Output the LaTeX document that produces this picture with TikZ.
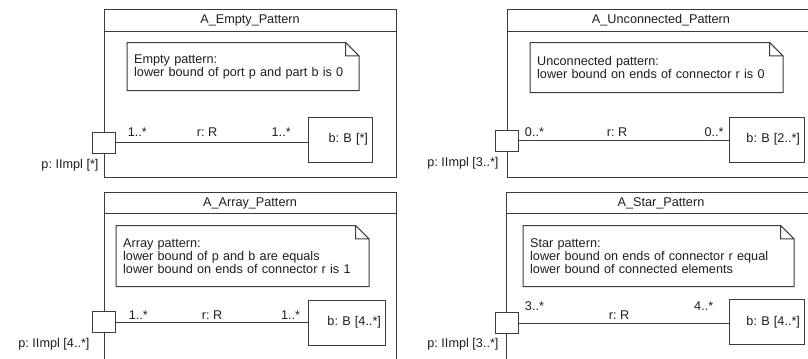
\documentclass[tikz,border=0pt]{standalone}
\usepackage{fontspec}
\setmainfont{Liberation Sans}
\frenchspacing
\usepackage{tikz}
\usetikzlibrary{arrows,shapes}
\definecolor{umlline}{RGB}{60,60,60}
\definecolor{umltext}{RGB}{30,30,30}
\tikzstyle{uml}=[x=0.75pt, y=-0.75pt, line width=0.75pt, draw=umlline,
                every node/.style={text=umltext, font=\fontsize{9.5}{9.75}\selectfont}]
\tikzstyle{title}=[inner sep=0]
\tikzstyle{note}=[anchor=west, align=left, inner xsep=5pt, inner ysep=0]
\tikzstyle{port}=[draw=umlline, fill=white, minimum width=17.25pt,
                minimum height=15.75pt, inner sep=0]
\tikzstyle{part}=[draw=umlline, fill=white, align=right, inner xsep=3pt,
                minimum height=33.75pt]
\tikzstyle{plabel}=[anchor=east, inner sep=0]
\tikzstyle{mult}=[inner sep=0, anchor=center]

\begin{document}
\begin{tikzpicture}[uml]
\useasboundingbox (0,0) rectangle (808,358);
\clip (0,0) rectangle (808,358);
% frames
\draw[umlline] (104,9) rectangle (396,177) (104,31) -- (396,31);
\draw[umlline] (507,9) rectangle (815,177) (507,31) -- (815,31);
\draw[umlline] (104,192) rectangle (396,370) (104,213) -- (396,213);
\draw[umlline] (506,192) rectangle (815,370) (506,213) -- (815,213);
\node[title] (t1) at (250,20) {A\_Empty\_Pattern};
\node[title] (t2) at (661,20) {A\_Unconnected\_Pattern};
\node[title] (t3) at (250,203) {A\_Array\_Pattern};
\node[title] (t4) at (661,203) {A\_Star\_Pattern};
% notes
\node[note, text width=163.25pt, minimum height=35.25pt] (n1) at (127,66.5)
  {Empty pattern:\\lower bound of port p and part b is 0};
\node[note, text width=179pt, minimum height=36.75pt] (n2) at (530,67.5)
  {Unconnected pattern:\\lower bound on ends of connector r is 0};
\node[note, text width=179pt, minimum height=45pt] (n3) at (116,256)
  {Array pattern:\\lower bound of p and b are equals\\lower bound on ends of connector r is 1};
\node[note, text width=192.5pt, minimum height=45pt] (n4) at (523,256)
  {Star pattern:\\lower bound on ends of connector r equal\\lower bound of connected elements};
\foreach \n in {n1,n2,n3,n4}
  \draw[umlline] (\n.south west) -- (\n.north west) -- ([xshift=-10pt]\n.north east)
    -- ([yshift=-10pt]\n.north east) -- (\n.south east) -- cycle
    ([xshift=-10pt]\n.north east) |- ([yshift=-10pt]\n.north east);
% parts
\node[part, text width=42pt] (b1) at (340,139.5) {b: B [*]};
\node[part, text width=50.25pt] (b2) at (766.5,139.5) {b: B [2..*]};
\node[part, text width=51.75pt] (b3) at (346.5,322.5) {b: B [4..*]};
\node[part, text width=50.25pt] (b4) at (766.5,322) {b: B [4..*]};
% ports
\node[port] (p1) at (103.5,142.5) {};
\node[port] (p2) at (506.5,140.5) {};
\node[port] (p3) at (103.5,322) {};
\node[port] (p4) at (506.5,323) {};
\node[plabel] (l1) at (99,165) {p: IImpl [*]};
\node[plabel] (l2) at (499,163) {p: IImpl [3..*]};
\node[plabel] (l3) at (90,344) {p: IImpl [4..*]};
\node[plabel] (l4) at (499,344) {p: IImpl [3..*]};
% connectors
\path[draw=umlline]
  (p1) edge node[mult, pos=0.114, yshift=7.5pt] {1..*}
            node[mult, pos=0.477, yshift=7.5pt] {r: R}
            node[mult, pos=0.863, yshift=7.5pt] {1..*} (p1 -| b1.west)
  (p2) edge node[mult, pos=0.076, yshift=6pt] {0..*}
            node[mult, pos=0.469, yshift=6pt] {r: R}
            node[mult, pos=0.931, yshift=6pt] {0..*} (p2 -| b2.west)
  (p3) edge node[mult, pos=0.119, yshift=5.25pt] {1..*}
            node[mult, pos=0.503, yshift=5.25pt] {r: R}
            node[mult, pos=0.912, yshift=5.25pt] {1..*} (p3 -| b3.west)
  (p4) edge node[mult, pos=0.076, yshift=12.75pt] {3..*}
            node[mult, pos=0.479, yshift=6pt] {r: R}
            node[mult, pos=0.882, yshift=12.75pt] {4..*} (p4 -| b4.west);
\end{tikzpicture}
\end{document}
